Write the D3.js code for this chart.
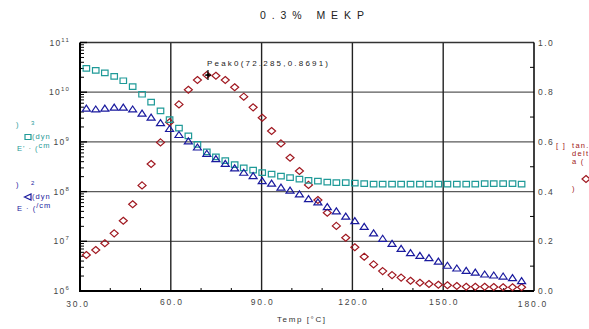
<!DOCTYPE html>
<html>
<head>
<meta charset="utf-8">
<script src="https://cdn.jsdelivr.net/npm/d3@7"></script>
<style>
  body { margin: 0; background: #fff; }
  svg { display: block; font-family: "Liberation Sans", Arial, sans-serif; }
</style>
</head>
<body>
<svg id="chart" width="589" height="329"></svg>
<script>
// temperature of each measurement (°C)
const temps = [32.1, 35.2, 38.2, 41.3, 44.3, 47.4, 50.5, 53.5, 56.6, 59.6, 62.7, 65.8,
  68.8, 71.9, 74.9, 78.0, 81.1, 84.1, 87.2, 90.2, 93.3, 96.4, 99.4, 102.5,
  105.5, 108.6, 111.7, 114.7, 117.8, 120.8, 123.9, 127.0, 130.0, 133.1, 136.1, 139.2,
  142.3, 145.3, 148.4, 151.4, 154.5, 157.6, 160.6, 163.7, 166.7, 169.8, 172.9, 175.9];

// storage modulus E' (dyn/cm²)
const storageMod = [3.02e10, 2.75e10, 2.45e10, 2.09e10, 1.70e10, 1.29e10, 9.1e9, 6.3e9, 4.2e9, 2.8e9, 1.9e9, 1.32e9,
  8.9e8, 6.3e8, 5.0e8, 4.2e8, 3.5e8, 3.0e8, 2.7e8, 2.4e8, 2.24e8, 2.04e8, 1.91e8, 1.78e8,
  1.68e8, 1.62e8, 1.55e8, 1.51e8, 1.51e8, 1.48e8, 1.45e8, 1.41e8, 1.41e8, 1.41e8, 1.41e8, 1.41e8,
  1.41e8, 1.41e8, 1.41e8, 1.41e8, 1.41e8, 1.41e8, 1.41e8, 1.45e8, 1.45e8, 1.45e8, 1.45e8, 1.41e8];

// loss modulus E'' (dyn/cm²)
const lossMod = [4.8e9, 4.6e9, 4.8e9, 5.0e9, 5.0e9, 4.6e9, 3.8e9, 3.16e9, 2.45e9, 1.86e9, 1.41e9, 1.05e9,
  7.9e8, 5.9e8, 4.6e8, 3.7e8, 3.0e8, 2.45e8, 2.09e8, 1.66e8, 1.48e8, 1.23e8, 1.07e8, 9.0e7,
  7.2e7, 6.2e7, 5.0e7, 4.1e7, 3.2e7, 2.6e7, 2.0e7, 1.48e7, 1.15e7, 9.1e6, 7.2e6, 5.9e6,
  5.2e6, 4.7e6, 4.0e6, 3.3e6, 2.9e6, 2.6e6, 2.4e6, 2.2e6, 2.1e6, 2.0e6, 1.86e6, 1.62e6];

// tan delta
const tanDelta = [0.145, 0.165, 0.192, 0.232, 0.283, 0.349, 0.425, 0.511, 0.598, 0.679, 0.751, 0.810,
  0.849, 0.869, 0.866, 0.849, 0.820, 0.782, 0.739, 0.697, 0.644, 0.594, 0.536, 0.483,
  0.427, 0.366, 0.315, 0.262, 0.214, 0.176, 0.138, 0.107, 0.080, 0.064, 0.054, 0.041,
  0.033, 0.028, 0.025, 0.023, 0.020, 0.017, 0.017, 0.017, 0.016, 0.015, 0.015, 0.015];

const xTicks = [30, 60, 90, 120, 150, 180];
const xMinor = [40, 50, 70, 80, 100, 110, 130, 140, 160, 170];
const leftExps = [6, 7, 8, 9, 10, 11];
const rightTicks = [0, 0.2, 0.4, 0.6, 0.8, 1.0];
const rightMinor = [0.1, 0.3, 0.5, 0.7, 0.9];
const peak = { t: 72.285, v: 0.8691 };

const teal = '#1f9a98';
const blue = '#1a1a9e';
const red = '#a01820';

const svg = d3.select('#chart');
const pLeft = 80, pRight = 534, pTop = 42.5, pBottom = 291;

const x = d3.scaleLinear().domain([30, 180]).range([pLeft, pRight]);
const yL = d3.scaleLog().domain([1e6, 1e11]).range([pBottom, pTop]);
const yR = d3.scaleLinear().domain([0, 1]).range([pBottom, pTop]);

// title
svg.append('text')
  .attr('x', 260).attr('y', 19)
  .attr('font-size', 10.5).attr('fill', '#222')
  .attr('textLength', 104).attr('lengthAdjust', 'spacing')
  .text('0.3% MEKP');

// grid
const grid = svg.append('g');
grid.selectAll('.hg')
  .data(leftExps.slice(1, -1))
  .enter().append('line')
  .attr('x1', pLeft).attr('x2', pRight)
  .attr('y1', (d) => yL(Math.pow(10, d))).attr('y2', (d) => yL(Math.pow(10, d)))
  .attr('stroke', '#5a5a5a').attr('stroke-width', 1.3);
grid.selectAll('.vg')
  .data(xTicks.slice(1, -1))
  .enter().append('line')
  .attr('y1', pTop).attr('y2', pBottom)
  .attr('x1', (d) => x(d)).attr('x2', (d) => x(d))
  .attr('stroke', '#222').attr('stroke-width', 1.4);

// frame
svg.append('line').attr('x1', pLeft).attr('x2', pRight).attr('y1', pTop).attr('y2', pTop)
  .attr('stroke', '#333').attr('stroke-width', 1.3);
svg.append('line').attr('x1', pRight).attr('x2', pRight).attr('y1', pTop).attr('y2', pBottom)
  .attr('stroke', '#000').attr('stroke-width', 1.5);
svg.append('line').attr('x1', pLeft).attr('x2', pLeft).attr('y1', pTop).attr('y2', pBottom + 1)
  .attr('stroke', '#000').attr('stroke-width', 2);
svg.append('line').attr('x1', pLeft - 1).attr('x2', pRight).attr('y1', pBottom).attr('y2', pBottom)
  .attr('stroke', '#000').attr('stroke-width', 2);

// left log minor ticks
const minorVals = [];
leftExps.slice(0, -1).forEach((e) => {
  for (let m = 2; m <= 9; m += 1) minorVals.push(m * Math.pow(10, e));
});
svg.selectAll('.lmin')
  .data(minorVals)
  .enter().append('line')
  .attr('x1', pLeft).attr('x2', pLeft + 4)
  .attr('y1', (d) => yL(d)).attr('y2', (d) => yL(d))
  .attr('stroke', '#000').attr('stroke-width', 1);
svg.selectAll('.lmaj')
  .data(leftExps)
  .enter().append('line')
  .attr('x1', pLeft).attr('x2', pLeft + 7)
  .attr('y1', (d) => yL(Math.pow(10, d))).attr('y2', (d) => yL(Math.pow(10, d)))
  .attr('stroke', '#000').attr('stroke-width', 1.3);

// right minor ticks
svg.selectAll('.rmin')
  .data(rightMinor)
  .enter().append('line')
  .attr('x1', pRight - 4).attr('x2', pRight)
  .attr('y1', (d) => yR(d)).attr('y2', (d) => yR(d))
  .attr('stroke', '#000').attr('stroke-width', 1);

// bottom minor ticks
svg.selectAll('.bmin')
  .data(xMinor)
  .enter().append('line')
  .attr('x1', (d) => x(d)).attr('x2', (d) => x(d))
  .attr('y1', pBottom - 3).attr('y2', pBottom)
  .attr('stroke', '#000').attr('stroke-width', 1);

// left labels 10^n
const ll = svg.selectAll('.ll')
  .data(leftExps)
  .enter().append('text')
  .attr('x', 70)
  .attr('y', (d) => yL(Math.pow(10, d)) + 3)
  .attr('text-anchor', 'end')
  .attr('font-size', 8.5).attr('fill', '#444')
  .attr('letter-spacing', 1.2);
ll.append('tspan').text('10');
ll.append('tspan').attr('dy', -4).attr('font-size', 6).text((d) => d);

// right labels
svg.selectAll('.rl')
  .data(rightTicks)
  .enter().append('text')
  .attr('x', 538)
  .attr('y', (d) => yR(d) + 3)
  .attr('font-size', 8.5).attr('fill', '#444')
  .attr('letter-spacing', 1.5)
  .text((d) => d.toFixed(1));

// bottom labels
svg.selectAll('.bl')
  .data(xTicks)
  .enter().append('text')
  .attr('x', (d) => x(d) + (d === 30 ? -2 : (d === 180 ? -1 : 1)))
  .attr('y', (d) => (d === 30 || d === 180 ? 307 : 305))
  .attr('text-anchor', 'middle')
  .attr('font-size', 8.5).attr('fill', '#444')
  .attr('letter-spacing', 1.8)
  .text((d) => d.toFixed(1));

svg.append('text')
  .attr('x', 277).attr('y', 322)
  .attr('font-size', 8).attr('fill', '#333')
  .attr('textLength', 48).attr('lengthAdjust', 'spacing')
  .text('Temp [°C]');

// markers
const sq = (w, h) => `M${-w / 2},${-h / 2}h${w}v${h}h${-w}Z`;
const tri = (w, h) => `M0,${-h / 2}L${w / 2},${h / 2}L${-w / 2},${h / 2}Z`;
const dia = (w, h) => `M0,${-h / 2}L${w / 2},0L0,${h / 2}L${-w / 2},0Z`;

const pts = temps.map((t, i) => ({ t, e1: storageMod[i], e2: lossMod[i], td: tanDelta[i] }));

svg.append('g').selectAll('path')
  .data(pts).enter().append('path')
  .attr('transform', (d) => `translate(${x(d.t)},${yR(d.td)})`)
  .attr('d', dia(8, 7))
  .attr('fill', 'none').attr('stroke', red).attr('stroke-width', 1.2);

svg.append('g').selectAll('path')
  .data(pts).enter().append('path')
  .attr('transform', (d) => `translate(${x(d.t)},${yL(d.e1)})`)
  .attr('d', sq(6.5, 5.5))
  .attr('fill', 'none').attr('stroke', teal).attr('stroke-width', 1.2);

svg.append('g').selectAll('path')
  .data(pts).enter().append('path')
  .attr('transform', (d) => `translate(${x(d.t)},${yL(d.e2)})`)
  .attr('d', tri(8, 6))
  .attr('fill', 'none').attr('stroke', blue).attr('stroke-width', 1.2);

// peak marker
const px = x(peak.t), py = yR(peak.v);
svg.append('path').attr('d', `M${px},${py - 5}V${py + 5}M${px - 3},${py}H${px + 3}`)
  .attr('stroke', '#000').attr('stroke-width', 1.2);
svg.append('path').attr('transform', `translate(${px},${py})`).attr('d', dia(4, 4)).attr('fill', '#000');
svg.append('text')
  .attr('x', 207).attr('y', 65.5)
  .attr('font-size', 8).attr('fill', '#222')
  .attr('textLength', 121).attr('lengthAdjust', 'spacing')
  .text(`Peak0(${peak.t},${peak.v})`);

// left legend fragments (E' teal, E'' blue)
function leftLegend(color, y0, sym) {
  const g = svg.append('g').attr('fill', color).attr('font-size', 7.5);
  g.append('text').attr('x', 16).attr('y', y0).text(')');
  g.append('text').attr('x', 31).attr('y', y0 - 2).attr('font-size', 6).text(sym === 'sq' ? '3' : '2');
  g.append('path').attr('transform', `translate(28,${y0 + 10})`)
    .attr('d', sym === 'sq' ? sq(6, 5) : 'M-3.5,0L3,-3L3,3Z')
    .attr('fill', 'none').attr('stroke', color).attr('stroke-width', 1.2);
  g.append('text').attr('x', 32).attr('y', y0 + 12).attr('letter-spacing', 1).text('(dyn');
  const t = g.append('text').attr('x', 17).attr('y', y0 + 24).attr('letter-spacing', 1);
  t.append('tspan').text(sym === 'sq' ? "E' · (" : 'E · (');
  t.append('tspan').attr('dy', -3).text(sym === 'sq' ? 'cm' : '/cm');
}
leftLegend(teal, 127, 'sq');
leftLegend(blue, 187, 'tri');

// right legend (tan delta)
const rg = svg.append('g').attr('fill', red).attr('font-size', 7.5).attr('letter-spacing', 1.3);
rg.append('text').attr('x', 556).attr('y', 148).text('[ ]');
rg.append('text').attr('x', 572).attr('y', 148).text('tan.');
rg.append('text').attr('x', 572).attr('y', 156).text('delt');
rg.append('text').attr('x', 572).attr('y', 164).text('a (');
rg.append('path').attr('transform', 'translate(586,179)').attr('d', dia(8, 7))
  .attr('fill', 'none').attr('stroke', red).attr('stroke-width', 1.2);
rg.append('text').attr('x', 572).attr('y', 191).text(')');
</script>
</body>
</html>
